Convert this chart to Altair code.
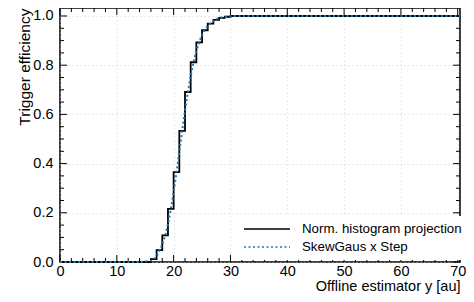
import altair as alt
import pandas as pd

# ---- data ----
hist_edges = [0, 16, 17, 18, 19, 20, 21, 22, 23, 24, 25, 26, 27, 28, 29, 30, 70.4]
hist_vals = [0.0, 0.012, 0.048, 0.108, 0.216, 0.365, 0.533, 0.691, 0.812, 0.893,
             0.942, 0.969, 0.984, 0.992, 0.997, 1.0, 1.0]

fit_x = [0, 14, 15, 16, 16.5, 17, 17.5, 18, 18.5, 19, 19.5, 20, 20.5, 21, 21.5, 22,
         22.5, 23, 23.5, 24, 24.5, 25, 25.5, 26, 26.5, 27, 28, 29, 30, 32, 70.4]
fit_y = [0.0, 0.0, 0.002, 0.006, 0.012, 0.024, 0.045, 0.072, 0.108, 0.155, 0.214,
         0.285, 0.365, 0.447, 0.533, 0.615, 0.69, 0.755, 0.812, 0.858, 0.893, 0.922,
         0.943, 0.959, 0.971, 0.98, 0.991, 0.996, 0.999, 1.0, 1.0]

series_names = ["Norm. histogram projection", "SkewGaus x Step"]
series_colors = ["#000000", "#1f77b4"]

x_major = [0, 10, 20, 30, 40, 50, 60, 70]
x_minor = [v for v in range(0, 71, 2) if v % 10 != 0]
y_major = [0.0, 0.2, 0.4, 0.6, 0.8, 1.0]
y_minor = [round(0.05 * i, 2) for i in range(0, 21) if i % 4 != 0]

X_DOMAIN = [0, 70.4]
Y_DOMAIN = [0, 1.0325]
W, H = 400, 254

hist_df = pd.DataFrame({"x": hist_edges, "y": hist_vals, "s": series_names[0]})
fit_df = pd.DataFrame({"x": fit_x, "y": fit_y, "s": series_names[1]})

xs = alt.Scale(domain=X_DOMAIN, nice=False, zero=False)
ys = alt.Scale(domain=Y_DOMAIN, nice=False, zero=False)

legend_opts = dict(
    title=None, orient="none", legendX=179, legendY=208,
    fillColor="white", padding=4, symbolType="stroke", symbolSize=2116,
    symbolStrokeWidth=1.6, labelFontSize=13.3, labelOffset=11, clipHeight=18,
    rowPadding=0, labelColor="black",
)
color = alt.Color(
    "s:N",
    scale=alt.Scale(domain=series_names, range=series_colors),
    legend=alt.Legend(**legend_opts),
)
dash = alt.StrokeDash(
    "s:N",
    scale=alt.Scale(domain=series_names, range=[[1, 0], [2, 2.5]]),
    legend=alt.Legend(**legend_opts),
)

x_axis = alt.Axis(
    values=x_major, ticks=False, domain=False, grid=True, gridDash=[1, 3],
    gridColor="#c8c8c8", gridWidth=0.8, labelFontSize=14.5, labelPadding=2,
    labelColor="black", title="Offline estimator y [au]", titleFontSize=14.5,
    titleFontWeight="normal", titleAnchor="end", titleAlign="right",
    titleX=W, titleY=28, titleBaseline="alphabetic", titleColor="black",
    labelFlush=False,
)
y_axis = alt.Axis(
    values=y_major, ticks=False, domain=False, grid=True, gridDash=[1, 3],
    gridColor="#c8c8c8", gridWidth=0.8, labelFontSize=14.5, labelPadding=7,
    labelColor="black", format=".1f", title="Trigger efficiency",
    titleFontSize=15.5, titleFontWeight="normal", titleAngle=-90,
    titleAlign="right", titleX=-36, titleY=0, titleBaseline="middle",
    titleColor="black", labelFlush=False,
)

hist = alt.Chart(hist_df).mark_line(interpolate="step-after", strokeWidth=1.8).encode(
    x=alt.X("x:Q", scale=xs, axis=x_axis),
    y=alt.Y("y:Q", scale=ys, axis=y_axis),
    color=color, strokeDash=dash,
)
fit = alt.Chart(fit_df).mark_line(interpolate="monotone", strokeWidth=2).encode(
    x=alt.X("x:Q", scale=xs),
    y=alt.Y("y:Q", scale=ys),
    color=color, strokeDash=dash,
)


def xticks(vals, y0, y1):
    return alt.Chart(pd.DataFrame({"v": vals})).mark_rule(color="black", strokeWidth=1).encode(
        x=alt.X("v:Q", scale=xs), y=alt.value(y0), y2=alt.value(y1))


def yticks(vals, x0, x1):
    return alt.Chart(pd.DataFrame({"v": vals})).mark_rule(color="black", strokeWidth=1).encode(
        y=alt.Y("v:Q", scale=ys), x=alt.value(x0), x2=alt.value(x1))


MAJ, MIN = 7, 4
tick_layers = [
    xticks(x_major, H, H - MAJ), xticks(x_minor, H, H - MIN),
    xticks(x_major, 0, MAJ), xticks(x_minor, 0, MIN),
    yticks(y_major, 0, MAJ), yticks(y_minor, 0, MIN),
    yticks(y_major, W, W - MAJ), yticks(y_minor, W, W - MIN),
]

chart = alt.layer(*tick_layers, hist, fit).properties(
    width=W, height=H,
    autosize=alt.AutoSizeParams(type="none"),
    padding={"left": 52, "top": 0, "right": 6, "bottom": 32},
).configure(font="Liberation Sans").configure_view(
    stroke="black", strokeWidth=1.5
)

chart.save("out.html", embed_options={"renderer": "svg", "actions": False})
